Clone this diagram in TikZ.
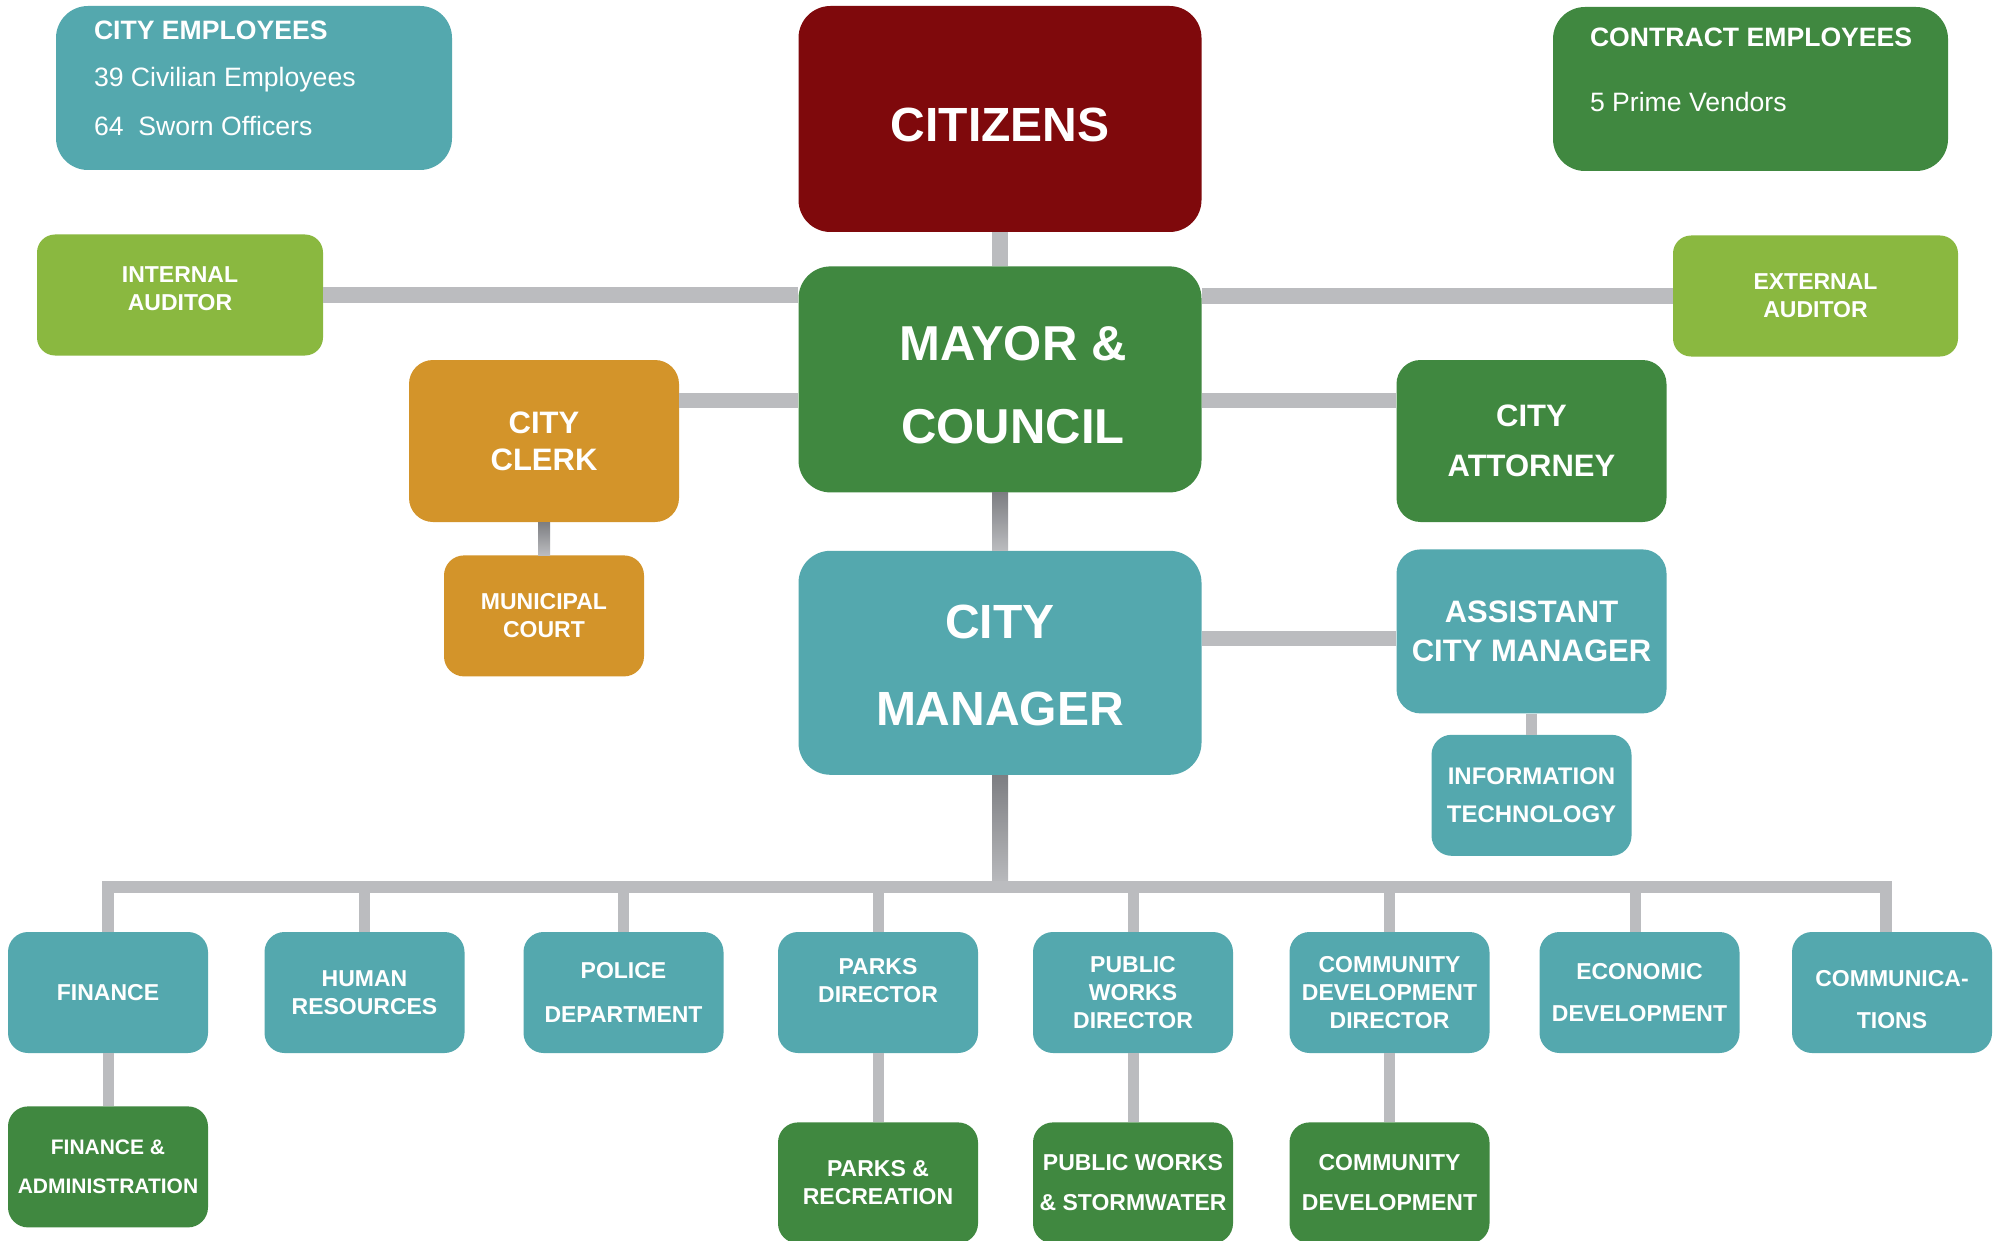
\documentclass[tikz,border=0pt]{standalone}
\usepackage{fontspec}
\setmainfont{Liberation Sans}
\usetikzlibrary{positioning,calc}
\definecolor{CityTeal}{RGB}{84,168,174}
\definecolor{CityRed}{RGB}{127,9,12}
\definecolor{CityGreen}{RGB}{64,136,64}
\definecolor{CityLime}{RGB}{138,184,64}
\definecolor{CityGold}{RGB}{211,148,42}
\definecolor{LinkGrey}{RGB}{187,188,191}
\definecolor{LinkDark}{RGB}{125,126,130}
\newcommand\fsz[2]{\fontsize{#1}{#2}\selectfont}
\newcommand\lift[1]{\rule{0pt}{#1}}
\tikzset{
  org box/.style={
    rounded corners=20pt,
    inner sep=0pt,
    align=center,
    text=white,
    font=\bfseries\fsz{23}{28},
    minimum width=200pt,
    minimum height=121pt
  },
  top box/.style={
    org box,
    rounded corners=32pt,
    minimum width=403pt,
    minimum height=226pt,
    font=\bfseries\fsz{48}{83}
  },
  side box/.style={
    org box,
    rounded corners=24pt,
    minimum width=270pt,
    minimum height=162pt,
    font=\bfseries\fsz{31}{37}
  },
  aux box/.style={
    org box,
    rounded corners=18pt,
    minimum width=286pt,
  },
  info box/.style={
    rounded corners=32pt,
    minimum width=396pt,
    minimum height=164pt,
    inner sep=0pt
  },
  info text/.style={
    text=white,
    inner sep=0pt,
    anchor=base west,
    font=\fsz{26.6}{30}
  },
  teal box/.style={org box, fill=CityTeal},
  green box/.style={org box, fill=CityGreen},
  link/.style={
    draw=LinkGrey,
    line width=15pt,
  },
  trunk/.style={
    draw=LinkGrey,
    line width=16pt,
  },
  bus/.style={
    draw=LinkGrey,
    line width=12pt,
    line join=miter,
  },
  drop/.style={
    draw=LinkGrey,
    line width=11pt,
  },
}

\begin{document}
\begin{tikzpicture}[x=1pt,y=-1pt]
  \fill[white] (0,0) rectangle (1999,1241);
  \useasboundingbox (0,0) rectangle (1999,1241);
  % head count panels
  \node[info box, fill=CityTeal] (emp) at (254,88) {};
  \node[info text, font=\bfseries\fsz{26.6}{30}] (emp title) at ([shift={(38,34)}]emp.north west) {CITY EMPLOYEES};
  \node[info text] (emp civ) at ([shift={(38,81)}]emp.north west) {39 Civilian Employees};
  \node[info text] (emp sworn) at ([shift={(38,130)}]emp.north west) {64\ \ Sworn Officers};
  \node[info box, fill=CityGreen, minimum width=395pt] (contract) at (1750.5,89) {};
  \node[info text, font=\bfseries\fsz{26.6}{30}] (contract title) at ([shift={(37,40)}]contract.north west) {CONTRACT EMPLOYEES};
  \node[info text] (contract vendors) at ([shift={(37,105)}]contract.north west) {5 Prime Vendors};
  % centre column
  \node[top box, fill=CityRed] (citizens) at (1000,119) {\lift{45pt}CITIZENS};
  \node[top box, fill=CityGreen, font=\bfseries\fsz{49}{83}] (mayor) [below=34pt of citizens] {\lift{46pt}\hspace*{26pt}MAYOR \&\\\hspace*{26pt}COUNCIL};
  \node[top box, fill=CityTeal, minimum height=224pt] (cm) [below=58pt of mayor] {\lift{38pt}CITY\\[4pt]MANAGER};
  % auditors, clerk, attorney
  \node[aux box, fill=CityLime, text depth=12pt] (ia) at (180,295) {INTERNAL\\AUDITOR};
  \node[aux box, fill=CityLime, minimum width=285pt] (ea) at (1815.5,296) {EXTERNAL\\AUDITOR};
  \node[side box, fill=CityGold] (clerk) at (544,441) {CITY\\CLERK};
  \node[org box, fill=CityGold] (court) [below=33pt of clerk] {MUNICIPAL\\COURT};
  \node[side box, fill=CityGreen] (attorney) at (1531.5,441) {CITY\\[13pt]ATTORNEY};
  \node[side box, fill=CityTeal, minimum height=164pt] (acm) [below=27pt of attorney] {ASSISTANT\\[2pt]CITY MANAGER};
  \node[teal box, font=\bfseries\fsz{24}{38}] (it) [below=21pt of acm] {INFORMATION\\TECHNOLOGY};
  % departments
  \coordinate (bus) at (1000,887);
  \node[teal box] (fin) at (108,992.5) {FINANCE};
  \node[teal box] (hr) at (364.5,992.5) {HUMAN\\RESOURCES};
  \node[teal box] (police) at (623.5,992.5) {POLICE\\[16pt]DEPARTMENT};
  \node[teal box, text depth=24pt] (parks) at (878,992.5) {PARKS\\DIRECTOR};
  \node[teal box] (pw) at (1133,992.5) {PUBLIC\\WORKS\\DIRECTOR};
  \node[teal box] (cdd) at (1389.5,992.5) {COMMUNITY\\DEVELOPMENT\\DIRECTOR};
  \node[teal box] (econ) at (1639.5,992.5) {ECONOMIC\\[14pt]DEVELOPMENT};
  \node[teal box] (comm) at (1892,992.5) {\lift{31pt}COMMUNICA-\\[14pt]TIONS};
  \node[green box, font=\bfseries\fsz{21}{39}] (fa) [below=53pt of fin] {FINANCE \&\\ADMINISTRATION};
  \node[green box] (parksrec) [below=69pt of parks] {PARKS \&\\RECREATION};
  \node[green box] (pws) [below=69pt of pw] {PUBLIC WORKS\\[12pt]\& STORMWATER};
  \node[green box] (cd) [below=69pt of cdd] {COMMUNITY\\[12pt]DEVELOPMENT};
  % connectors
  \draw[trunk] (citizens.south) -- (mayor.north);
  \shade[top color=LinkDark, bottom color=LinkGrey] ([xshift=-8pt]mayor.south) rectangle ([xshift=8pt]cm.north);
  \shade[top color=LinkDark, middle color=LinkGrey, bottom color=LinkGrey] ([xshift=-8pt]cm.south) rectangle ([xshift=8pt]bus);
  \shade[top color=LinkDark, bottom color=LinkGrey] ([xshift=-6pt]clerk.south) rectangle ([xshift=6pt]court.north);
  \draw[link] (ia.east) -- (ia.east -| mayor.west);
  \draw[link] (ea.west) -- (ea.west -| mayor.east);
  \draw[link] ([yshift=-41pt]clerk.north east) -- ([yshift=-41pt]clerk.north east -| mayor.west);
  \draw[link] ([yshift=-41pt]attorney.north west) -- ([yshift=-41pt]attorney.north west -| mayor.east);
  \draw[link] ([yshift=-7pt]acm.west) -- ([yshift=-7pt]acm.west -| cm.east);
  \draw[drop] (acm.south) -- (it.north);
  \draw[bus] (fin.north) -- (fin.north |- bus) -- ([xshift=-6pt]comm.north |- bus) -- ([xshift=-6pt]comm.north);
  \draw[drop] (hr.north) -- (hr.north |- bus);
  \draw[drop] (police.north) -- (police.north |- bus);
  \draw[drop] (parks.north) -- (parks.north |- bus);
  \draw[drop] (pw.north) -- (pw.north |- bus);
  \draw[drop] (cdd.north) -- (cdd.north |- bus);
  \draw[drop] ([xshift=-4pt]econ.north) -- ([xshift=-4pt]econ.north |- bus);
  \draw[drop] (fin.south) -- (fa.north);
  \draw[drop] (parks.south) -- (parksrec.north);
  \draw[drop] (pw.south) -- (pws.north);
  \draw[drop] (cdd.south) -- (cd.north);
\end{tikzpicture}
\end{document}
